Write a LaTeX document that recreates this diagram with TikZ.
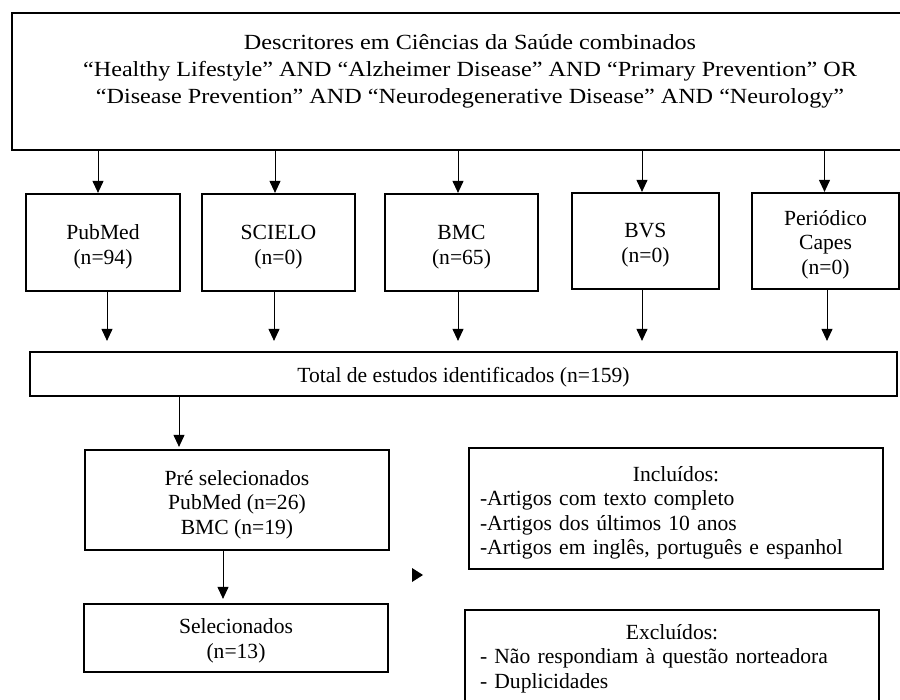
\documentclass[tikz,border=0pt]{standalone}
\usepackage{fontspec}
\setmainfont{Liberation Serif}
\newfontfamily\widefont[FakeStretch=1.12]{Liberation Serif}
\usetikzlibrary{arrows.meta,calc}
\begin{document}
\begin{tikzpicture}[x=0.5pt,y=-0.5pt,
  box/.style={draw, line width=1.1pt, inner sep=0pt},
  txt/.style={inner sep=0pt, align=center, font=\fontsize{10.8}{12.25}\selectfont},
  arr/.style={line width=0.5pt, -{Triangle[length=6pt,width=5.5pt]}},
]
\useasboundingbox (0,0) rectangle (900,700);

% top box
\node[box, minimum width=454pt, minimum height=68.5pt] (top) at (466,81.5) {};
\node[txt, font=\widefont\fontsize{10.8}{13.5}\selectfont] (toptxt) at (470,71)
  {Descritores em Ciências da Saúde combinados\\
   “Healthy Lifestyle” AND “Alzheimer Disease” AND “Primary Prevention” OR\\
   “Disease Prevention” AND “Neurodegenerative Disease” AND “Neurology”};

% databases
\node[box, minimum width=77pt, minimum height=48.5pt] (pub) at (103,242.5) {};
\node[txt] (pubt) at ($(pub.center)+(0,4.5)$) {PubMed\\(n=94)};
\node[box, minimum width=76.5pt, minimum height=48.5pt] (sci) at (278.5,242.5) {};
\node[txt] (scit) at ($(sci.center)+(0,4.5)$) {SCIELO\\(n=0)};
\node[box, minimum width=76.5pt, minimum height=48.5pt] (bmc) at (461.5,242.5) {};
\node[txt] (bmct) at ($(bmc.center)+(0,4.5)$) {BMC\\(n=65)};
\node[box, minimum width=73.5pt, minimum height=48pt] (bvs) at (645.5,241) {};
\node[txt] (bvst) at ($(bvs.center)+(0,4)$) {BVS\\(n=0)};
\node[box, minimum width=73.5pt, minimum height=48pt] (per) at (825.5,241) {};
\node[txt] (pert) at ($(per.center)+(0,3.5)$) {Periódico\\Capes\\(n=0)};

% total
\node[box, minimum width=433.5pt, minimum height=22pt] (total) at (463.5,374) {};
\node[txt] (totalt) at ($(total.center)+(0,3)$) {Total de estudos identificados (n=159)};

% left column
\node[box, minimum width=152pt, minimum height=50pt] (pre) at (237,500) {};
\node[txt] (pret) at ($(pre.center)+(0,4.5)$) {Pré selecionados\\PubMed (n=26)\\BMC (n=19)};
\node[box, minimum width=152pt, minimum height=34pt] (sel) at (236,638) {};
\node[txt] (selt) at ($(sel.center)+(0,3)$) {Selecionados\\(n=13)};

% right column
\node[box, minimum width=207pt, minimum height=60.5pt] (inc) at (676,508.5) {};
\node[txt, align=left, text width=196pt] (inct) at ($(inc.center)+(0,4.5)$)
  {\centering Incluídos:\par\raggedright
   -Artigos com texto completo\\
   -Artigos dos últimos 10 anos\\
   -Artigos em inglês, português e espanhol};
\node[box, minimum width=207pt, minimum height=55pt] (exc) at (672,665) {};
\node[txt, align=left, text width=192pt, anchor=north] (exct) at (672,624)
  {\centering Excluídos:\par\raggedright
   - Não respondiam à questão norteadora\\
   - Duplicidades};

% arrows from top
\draw[arr] ($(top.south -| pub.north)+(-5,0)$) -- ($(pub.north)+(-5,0)$);
\draw[arr] ($(top.south -| sci.north)+(-3.5,0)$) -- ($(sci.north)+(-3.5,0)$);
\draw[arr] ($(top.south -| bmc.north)+(-3.5,0)$) -- ($(bmc.north)+(-3.5,0)$);
\draw[arr] ($(top.south -| bvs.north)+(-3.5,0)$) -- ($(bvs.north)+(-3.5,0)$);
\draw[arr] ($(top.south -| per.north)+(-1,0)$) -- ($(per.north)+(-1,0)$);

% arrows to total
\draw[arr, shorten >=5pt] ($(pub.south)+(4,0)$) -- ($(pub.south |- total.north)+(4,0)$);
\draw[arr, shorten >=5pt] ($(sci.south)+(-4.5,0)$) -- ($(sci.south |- total.north)+(-4.5,0)$);
\draw[arr, shorten >=5pt] ($(bmc.south)+(-3.5,0)$) -- ($(bmc.south |- total.north)+(-3.5,0)$);
\draw[arr, shorten >=5pt] ($(bvs.south)+(-3.5,0)$) -- ($(bvs.south |- total.north)+(-3.5,0)$);
\draw[arr, shorten >=5pt] ($(per.south)+(1.5,0)$) -- ($(per.south |- total.north)+(1.5,0)$);

% lower arrows
\draw[arr, shorten >=1pt] ($(total.south -| pre.north)+(-58,0)$) -- ($(pre.north)+(-58,0)$);
\draw[arr, shorten >=2pt] ($(pre.south)+(-14,0)$) -- ($(sel.north)+(-13,0)$);

% stray arrowhead
\fill (412,568) -- (423,575) -- (412,582) -- cycle;
\end{tikzpicture}
\end{document}
